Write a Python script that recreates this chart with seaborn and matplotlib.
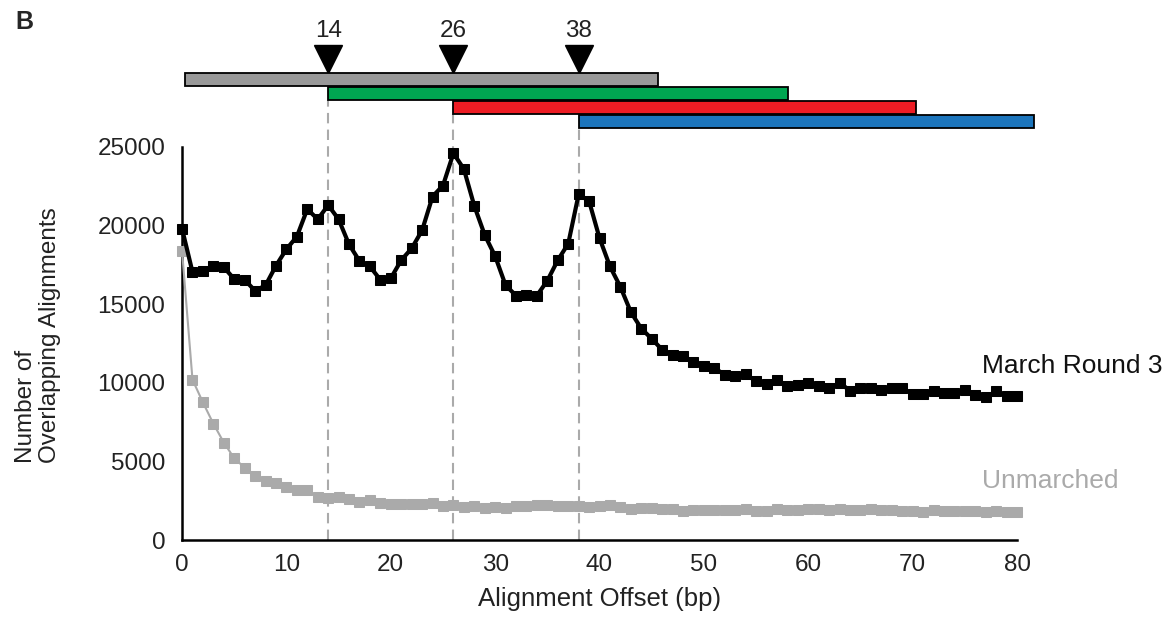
import matplotlib
matplotlib.use("Agg")
import matplotlib.pyplot as plt
import seaborn as sns
import pandas as pd

# ---- data ----
offset = list(range(0, 81))

march_round3 = [19800, 17050, 17100, 17450, 17350, 16600, 16550, 15850, 16200, 17450,
                18500, 19300, 21050, 20400, 21300, 20400, 18800, 17750, 17400, 16550,
                16650, 17800, 18550, 19700, 21850, 22550, 24600, 23600, 21250, 19400,
                18050, 16200, 15550, 15600, 15550, 16500, 17800, 18850, 22000, 21550,
                19200, 17400, 16100, 14500, 13450, 12800, 12100, 11800, 11700, 11350,
                11100, 10950, 10500, 10450, 10550, 10100, 9950, 10200, 9800, 9850,
                10000, 9800, 9650, 10000, 9500, 9650, 9650, 9550, 9650, 9650,
                9300, 9300, 9500, 9350, 9350, 9550, 9250, 9100, 9450, 9150, 9150]

unmarched = [18400, 10200, 8750, 7400, 6200, 5200, 4600, 4050, 3750, 3600,
             3350, 3150, 3150, 2750, 2650, 2750, 2600, 2450, 2550, 2350,
             2300, 2300, 2300, 2300, 2350, 2150, 2200, 2100, 2150, 2050,
             2100, 2050, 2150, 2150, 2200, 2200, 2150, 2150, 2150, 2100,
             2150, 2200, 2100, 2000, 2050, 2050, 1950, 2000, 1850, 1900,
             1900, 1900, 1900, 1900, 1950, 1850, 1850, 1950, 1900, 1900,
             1950, 1950, 1900, 1950, 1900, 1900, 1950, 1900, 1900, 1850,
             1850, 1800, 1900, 1850, 1850, 1850, 1850, 1800, 1850, 1800, 1800]

# footprint bars on top (start, end) and the peak offsets
bar_starts = [0.3, 14, 26, 38]
bar_ends = [45.6, 58.1, 70.3, 81.6]
bar_colors = ["#999999", "#00a651", "#ed1c24", "#1c75bc"]
peaks = [14, 26, 38]

df = pd.DataFrame({"offset": offset, "march": march_round3, "unmarched": unmarched})

sns.set_style("white")
plt.rcParams['font.family'] = ['Liberation Sans', 'DejaVu Sans']

fig = plt.figure(figsize=(11.67, 6.21), dpi=100)
ax = fig.add_axes([0.156, 0.1304, 0.7155, 0.6329])

sns.lineplot(data=df, x="offset", y="unmarched", ax=ax, color="#aaaaaa", lw=1.5,
             marker="s", markersize=6.5, markeredgecolor="#aaaaaa", zorder=3)
sns.lineplot(data=df, x="offset", y="march", ax=ax, color="black", lw=3,
             marker="s", markersize=6.5, markeredgecolor="black", zorder=4)
for ln in ax.lines:
    ln.set_clip_on(False)

ax.set_xlim(0, 80)
ax.set_ylim(0, 25000)
ax.set_xticks(range(0, 81, 10))
ax.set_yticks(range(0, 25001, 5000))
ax.tick_params(axis="y", direction="in", length=14, width=1.8, labelsize=17.5,
               pad=12, labelcolor="#222222")
ax.tick_params(axis="x", direction="in", length=9, width=1.8, labelsize=17.5,
               pad=10, labelcolor="#222222")
for s in ["top", "right"]:
    ax.spines[s].set_visible(False)
for s in ["left", "bottom"]:
    ax.spines[s].set_linewidth(1.8)
    ax.spines[s].set_color("black")

ax.set_xlabel("Alignment Offset (bp)", fontsize=18.5, labelpad=8, color="#222222")
ax.set_ylabel("")
fig.text(0.0325, (621 - 463) / 621, "Number of\nOverlapping Alignments", fontsize=17.5,
         rotation=90, ha="center", va="bottom", multialignment="left",
         linespacing=1.12, color="#222222")

# series labels
ax.text(76.6, 11070, "March Round 3", fontsize=19, color="#111111", va="center",
        ha="left", clip_on=False)
ax.text(76.6, 3750, "Unmarched", fontsize=19, color="#aaaaaa", va="center",
        ha="left", clip_on=False)

# footprint bars above the axes
bar_h = 830
step = 890
for i, (s, e, c) in enumerate(zip(bar_starts, bar_ends, bar_colors)):
    bottom = 28880 - i * step
    ax.add_patch(plt.Rectangle((s, bottom), e - s, bar_h, facecolor=c,
                               edgecolor="black", lw=1.3, clip_on=False, zorder=5))

# dashed guide lines from the bars down to the axis
for i, p in enumerate(peaks):
    top = 28880 - (i + 1) * step
    ax.plot([p, p], [0, top], color="#aaaaaa", lw=1.5, ls=(0, (5, 3)),
            clip_on=False, zorder=1)

# peak arrows and labels
for p in peaks:
    ax.plot([p], [30620], marker="v", markersize=20, color="black", clip_on=False)
    ax.text(p, 32350, str(p), fontsize=17.5, ha="center", va="center",
            color="#222222", clip_on=False)

fig.text(0.013, 0.965, "B", fontsize=18, fontweight="bold", ha="left", va="center")

plt.savefig("out.png", dpi=100)
